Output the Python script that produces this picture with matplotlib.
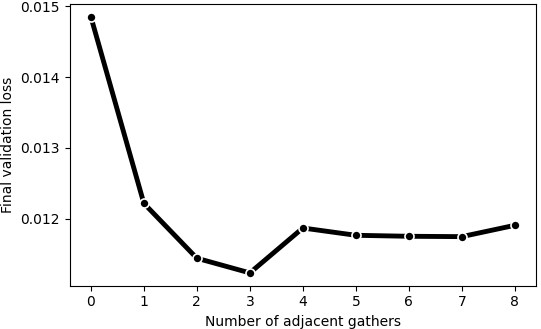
import matplotlib
matplotlib.use("Agg")
import matplotlib.pyplot as plt

adjacent_gathers = [0, 1, 2, 3, 4, 5, 6, 7, 8]
val_loss = [0.01485, 0.012216, 0.011441, 0.011234, 0.011868, 0.011765, 0.011751, 0.011746, 0.011906]

fig = plt.figure(figsize=(5.41, 3.29), dpi=100)
ax = fig.add_axes([0.1288, 0.1316, 0.9908 - 0.1288, 0.9878 - 0.1316])
ax.plot(adjacent_gathers, val_loss, color="black", lw=3.5, marker="o", ms=6.5,
        mec="white", mew=1.2)
ax.set_xlabel("Number of adjacent gathers")
ax.set_ylabel("Final validation loss")
ax.set_xticks(adjacent_gathers)
ax.set_yticks([0.012, 0.013, 0.014, 0.015])
fig.savefig("out.png", dpi=100)
